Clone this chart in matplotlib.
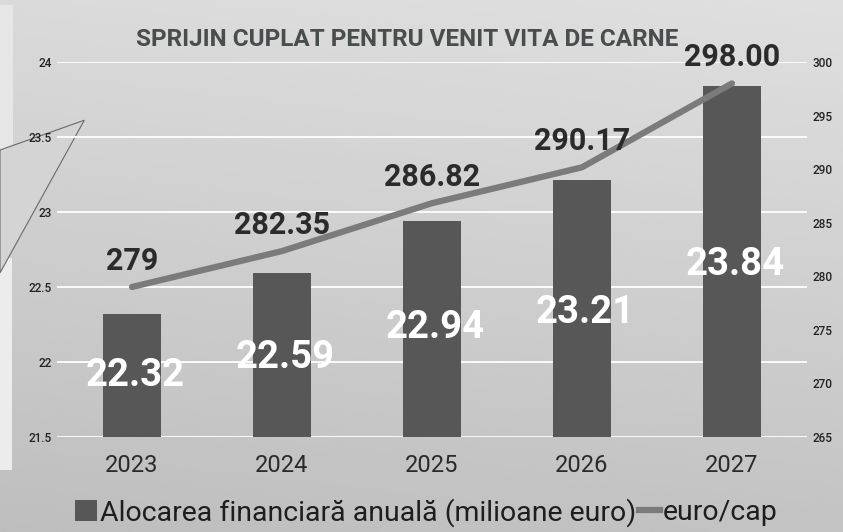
import numpy as np
import matplotlib.pyplot as plt
from matplotlib.patches import Polygon
from matplotlib.lines import Line2D
from matplotlib.patches import Patch

plt.rcParams['font.family'] = ['Roboto', 'DejaVu Sans']

# data
years = ['2023', '2024', '2025', '2026', '2027']
allocation = [22.32, 22.59, 22.94, 23.21, 23.84]      # milioane euro
euro_per_cap = [279, 282.35, 286.82, 290.17, 298.00]
cap_labels = ['279', '282.35', '286.82', '290.17', '298.00']
# where the white value labels sit inside the bars (left axis units)
bar_label_y = [21.91, 22.03, 22.23, 22.33, 22.65]

bar_color = '#575757'
line_color = '#7b7b7b'

fig = plt.figure(figsize=(8.43, 5.32), dpi=100)

# photographed page: grey gradient background
bg = fig.add_axes([0, 0, 1, 1], zorder=-10)
yy = np.linspace(0, 1, 200)[:, None]
xx = np.linspace(0, 1, 200)[None, :]
shade = 0.745 + 0.11 * yy + 0.02 * xx
bg.imshow(shade, cmap='gray', vmin=0, vmax=1, extent=[0, 1, 0, 1],
          origin='lower', aspect='auto', interpolation='bicubic')
# paper edges showing at the left of the photo
bg.add_patch(Polygon([[0, 0.117], [0.014, 0.117], [0.014, 0.515], [0, 0.515]],
                     closed=True, fc='#ececec', ec='none'))
bg.add_patch(Polygon([[0, 0.718], [0.015, 0.718], [0.015, 0.99], [0, 0.99]],
                     closed=True, fc='#e6e6e6', ec='none'))
bg.add_patch(Polygon([[0, 0.718], [0.1, 0.774], [0, 0.487]],
                     closed=True, fc='#d4d4d4', ec='#6a6a6a', lw=0.8))
bg.set_xlim(0, 1)
bg.set_ylim(0, 1)
bg.axis('off')

ax = fig.add_axes([0.0676, 0.1786, 0.8897, 0.7049])
ax.patch.set_alpha(0)
x = np.arange(len(years))

ax.bar(x, allocation, width=0.39, color=bar_color, zorder=2)
ax.set_ylim(21.5, 24)
ax.set_xlim(-0.5, len(years) - 0.5)
ax.set_yticks([21.5, 22, 22.5, 23, 23.5, 24])
ax.set_yticklabels(['21.5', '22', '22.5', '23', '23.5', '24'])
ax.yaxis.grid(True, color='white', lw=1.3, zorder=0)
ax.set_axisbelow(True)
ax.set_xticks(x)
ax.set_xticklabels(years, fontsize=17, color='#2a2a2a')
ax.tick_params(axis='y', labelsize=8.5, labelcolor='#222222', length=0, pad=4)
ax.tick_params(axis='x', length=0, pad=12)
for lab in ax.get_yticklabels():
    lab.set_fontweight('medium')
for s in ax.spines.values():
    s.set_visible(False)

for xi, v, ly in zip(x, allocation, bar_label_y):
    ax.text(xi + 0.02, ly, f'{v:.2f}', ha='center', va='center',
            fontsize=27.5, fontweight='bold', color='white', zorder=5)

ax2 = ax.twinx()
ax2.plot(x, euro_per_cap, color=line_color, lw=4.5, solid_capstyle='round', zorder=3)
ax2.set_ylim(265, 300)
ax2.set_yticks([265, 270, 275, 280, 285, 290, 295, 300])
ax2.tick_params(axis='y', labelsize=8.5, labelcolor='#222222', length=0, pad=4)
for lab in ax2.get_yticklabels():
    lab.set_fontweight('medium')
for s in ax2.spines.values():
    s.set_visible(False)

for xi, v, lab in zip(x, euro_per_cap, cap_labels):
    ax2.annotate(lab, (xi, v), xytext=(0, 19), textcoords='offset points',
                 ha='center', va='center', fontsize=22, fontweight='bold',
                 color='#2b2b2b', zorder=6)

fig.text(0.483, 0.925, 'SPRIJIN CUPLAT PENTRU VENIT VITA DE CARNE',
         ha='center', va='center', fontsize=17.5, fontweight='bold', color='#4a4d4d')

handles = [Patch(facecolor=bar_color, edgecolor='none'),
           Line2D([0], [0], color=line_color, lw=4.5)]
fig.legend(handles, ['Alocarea financiară anuală (milioane euro)', 'euro/cap'],
           loc='center', bbox_to_anchor=(0.506, 0.037), ncol=2, frameon=False,
           fontsize=20.5, handlelength=0.75, handleheight=0.75, handletextpad=0.1,
           columnspacing=0.1, labelcolor='#1e1e1e')

fig.savefig('out.png', dpi=100)
